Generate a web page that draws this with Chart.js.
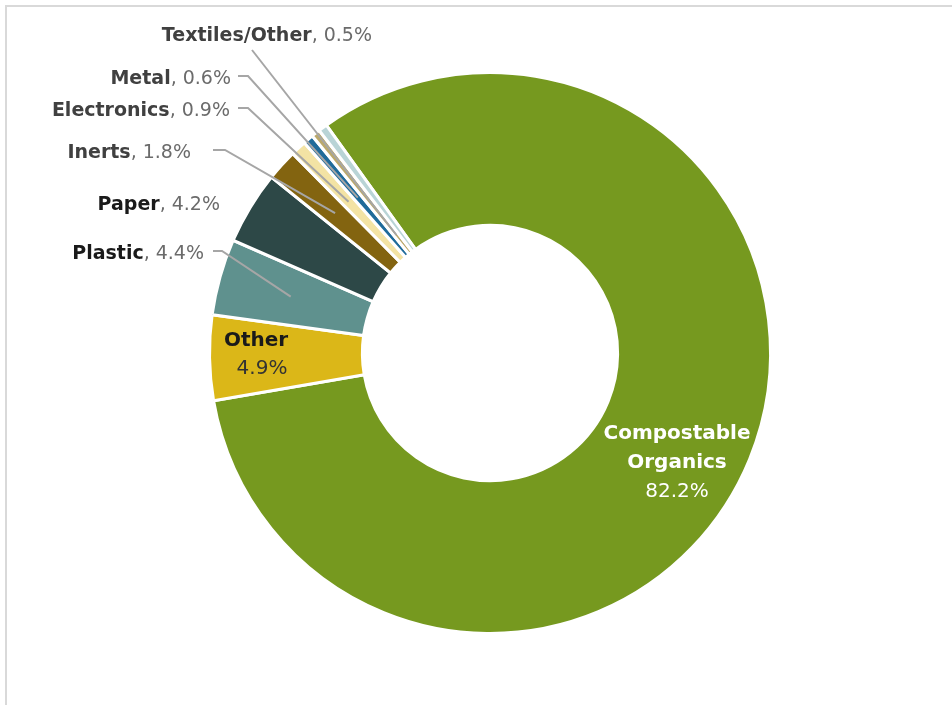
<!DOCTYPE html>
<html>
<head>
<meta charset="utf-8">
<title>Waste composition</title>
<script src="https://cdn.jsdelivr.net/npm/chart.js@4/dist/chart.umd.min.js"></script>
<style>
  html, body { margin: 0; padding: 0; background: #fff; }
  #wrap { position: relative; width: 952px; height: 705px; overflow: hidden; }
  #frame {
    position: absolute; left: 5px; top: 5px; width: 1000px; height: 800px;
    border-left: 2px solid #d9d9d9; border-top: 2px solid #d9d9d9;
  }
  #chart { position: absolute; left: 0; top: 0; }
</style>
</head>
<body>
<div id="wrap">
  <div id="frame"></div>
  <canvas id="chart" width="952" height="705"></canvas>
</div>
<script>
const categories = ['Compostable Organics', 'Other', 'Plastic', 'Paper', 'Inerts', 'Electronics', 'Metal', 'Textiles/Other', ''];
const shares = [82.2, 4.9, 4.4, 4.2, 1.8, 0.9, 0.6, 0.5, 0.5];
const sliceColors = ['#76991f', '#dbb718', '#5f918e', '#2d4847', '#836410', '#f3e3a4', '#1f6b9a', '#bba96c', '#b9d4d6'];

const FONT = '"Century Gothic", "DejaVu Sans", sans-serif';
const SIZE = 19;

// outside labels: name is bold, value regular; x is the right edge of the text
const outsideLabels = [
  { i: 7, x: 372, y: 41, nameColor: '#404040', dash: null, from: [252, 50], tip: 0.15 },
  { i: 6, x: 231, y: 84, nameColor: '#404040', dash: [238, 248, 76], tip: 0.5 },
  { i: 5, x: 230, y: 116, nameColor: '#404040', dash: [238, 248, 108], tip: 0.52 },
  { i: 4, x: 191, y: 158, nameColor: '#404040', dash: [213, 225, 150], tip: 0.53 },
  { i: 3, x: 220, y: 210, nameColor: '#1a1a1a', dash: null, from: null },
  { i: 2, x: 204, y: 259, nameColor: '#1a1a1a', dash: [213, 222, 251], tip: 0.52 }
];

function arcPoint(arc, f) {
  const p = arc.getProps(['x', 'y', 'startAngle', 'endAngle', 'innerRadius', 'outerRadius'], true);
  const a = (p.startAngle + p.endAngle) / 2;
  const r = p.innerRadius + f * (p.outerRadius - p.innerRadius);
  return [p.x + Math.cos(a) * r, p.y + Math.sin(a) * r];
}

const labelPlugin = {
  id: 'sliceLabels',
  afterDatasetsDraw(chart) {
    const ctx = chart.ctx;
    const arcs = chart.getDatasetMeta(0).data;
    ctx.save();
    ctx.textBaseline = 'alphabetic';

    // leader lines
    ctx.strokeStyle = '#a6a6a6';
    ctx.lineWidth = 2;
    outsideLabels.forEach(l => {
      if (!l.dash && !l.from) return;
      const tip = arcPoint(arcs[l.i], l.tip);
      ctx.beginPath();
      if (l.dash) {
        ctx.moveTo(l.dash[0], l.dash[2]);
        ctx.lineTo(l.dash[1], l.dash[2]);
      } else {
        ctx.moveTo(l.from[0], l.from[1]);
      }
      ctx.lineTo(tip[0], tip[1]);
      ctx.stroke();
    });

    // outside label text
    outsideLabels.forEach(l => {
      const name = categories[l.i];
      const val = ', ' + shares[l.i].toFixed(1) + '%';
      ctx.font = SIZE + 'px ' + FONT;
      const wv = ctx.measureText(val).width;
      ctx.font = 'bold ' + SIZE + 'px ' + FONT;
      const wn = ctx.measureText(name).width;
      const x0 = l.x - wv - wn;
      ctx.textAlign = 'left';
      ctx.fillStyle = l.nameColor;
      ctx.fillText(name, x0, l.y);
      ctx.font = SIZE + 'px ' + FONT;
      ctx.fillStyle = '#6b6b6b';
      ctx.fillText(val, x0 + wn, l.y);
    });

    // labels inside the ring
    ctx.textAlign = 'center';
    ctx.fillStyle = '#1a1a1a';
    ctx.font = 'bold 20px ' + FONT;
    ctx.fillText(categories[1], 256, 346);
    ctx.font = '20px ' + FONT;
    ctx.fillStyle = '#333333';
    ctx.fillText(shares[1].toFixed(1) + '%', 262, 374);

    ctx.fillStyle = '#ffffff';
    ctx.font = 'bold 20px ' + FONT;
    ctx.fillText('Compostable', 677, 439);
    ctx.fillText('Organics', 677, 468);
    ctx.font = '20px ' + FONT;
    ctx.fillText(shares[0].toFixed(1) + '%', 677, 497);
    ctx.restore();
  }
};

new Chart(document.getElementById('chart'), {
  type: 'doughnut',
  data: {
    labels: categories,
    datasets: [{
      data: shares,
      backgroundColor: sliceColors,
      borderColor: '#ffffff',
      borderWidth: 3,
      borderJoinStyle: 'miter'
    }]
  },
  options: {
    responsive: false,
    animation: false,
    rotation: -35.7,
    cutout: '45.5%',
    layout: { padding: { left: 208, right: 180, top: 71, bottom: 70 } },
    plugins: {
      legend: { display: false },
      tooltip: { enabled: false }
    }
  },
  plugins: [labelPlugin]
});
</script>
</body>
</html>
